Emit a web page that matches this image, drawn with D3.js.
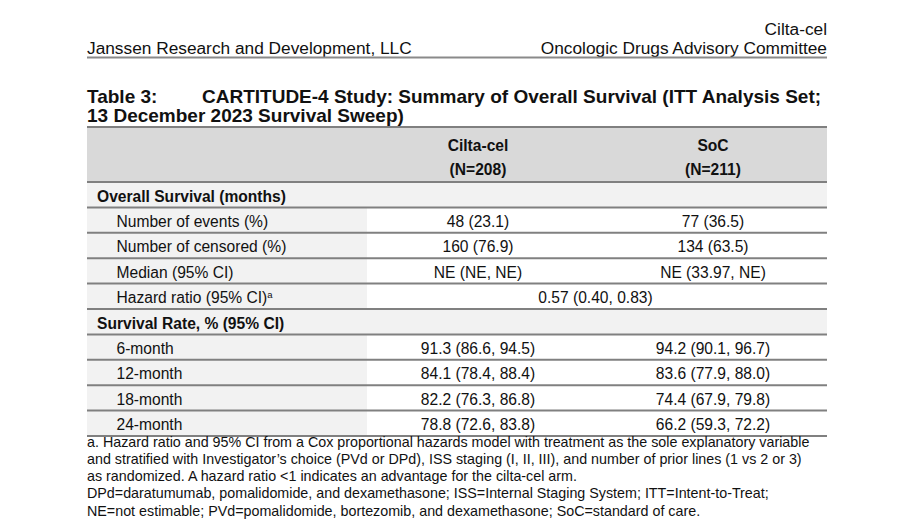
<!DOCTYPE html>
<html><head><meta charset="utf-8">
<script src="https://cdn.jsdelivr.net/npm/d3@7"></script>
<style>
html,body{margin:0;padding:0;background:#fff;}
svg{display:block;}
text{font-family:"Liberation Sans",Arial,sans-serif;fill:#111;}
</style></head>
<body>
<svg id="chart" width="911" height="527"></svg>
<script>
// ---- data ----
const pageHeaderRight = ["Cilta-cel", "Oncologic Drugs Advisory Committee"];
const pageHeaderLeft = "Janssen Research and Development, LLC";
const tableNumber = "Table 3:";
const titleLines = ["CARTITUDE-4 Study: Summary of Overall Survival (ITT Analysis Set;", "13 December 2023 Survival Sweep)"];
const columns = ["Cilta-cel", "SoC"];
const columnN = ["(N=208)", "(N=211)"];
const rowLabels = ["Overall Survival (months)", "Number of events (%)", "Number of censored (%)", "Median (95% CI)", "Hazard ratio (95% CI)", "Survival Rate, % (95% CI)", "6-month", "12-month", "18-month", "24-month"];
const rowKinds = ["section", "row", "row", "row", "span", "section", "row", "row", "row", "row"];
const ciltaValues = ["", "48 (23.1)", "160 (76.9)", "NE (NE, NE)", "0.57 (0.40, 0.83)", "", "91.3 (86.6, 94.5)", "84.1 (78.4, 88.4)", "82.2 (76.3, 86.8)", "78.8 (72.6, 83.8)"];
const socValues = ["", "77 (36.5)", "134 (63.5)", "NE (33.97, NE)", "", "", "94.2 (90.1, 96.7)", "83.6 (77.9, 88.0)", "74.4 (67.9, 79.8)", "66.2 (59.3, 72.2)"];
const footnotes = [
  "a. Hazard ratio and 95% CI from a Cox proportional hazards model with treatment as the sole explanatory variable",
  "and stratified with Investigator\u2019s choice (PVd or DPd), ISS staging (I, II, III), and number of prior lines (1 vs 2 or 3)",
  "as randomized. A hazard ratio <1 indicates an advantage for the cilta-cel arm.",
  "DPd=daratumumab, pomalidomide, and dexamethasone; ISS=Internal Staging System; ITT=Intent-to-Treat;",
  "NE=not estimable; PVd=pomalidomide, bortezomib, and dexamethasone; SoC=standard of care."
];

// ---- layout ----
const svg = d3.select("#chart");
const L = 87, R = 827, labelRight = 367;
const FS = 15.6;
const colCenter = d3.scaleOrdinal().domain(["label", ...columns]).range([0, 478, 713]);
const headerTop = 127, headerBottom = 182, tableBottom = 436;
const y = d3.scaleBand().domain(d3.range(rowLabels.length)).range([headerBottom, tableBottom]);

// page header
svg.append("text").attr("x", R).attr("y", 35).attr("text-anchor", "end").attr("font-size", 17.3).text(pageHeaderRight[0]);
svg.append("text").attr("x", R).attr("y", 54).attr("text-anchor", "end").attr("font-size", 17.3).text(pageHeaderRight[1]);
svg.append("text").attr("x", L).attr("y", 54).attr("font-size", 17.3).text(pageHeaderLeft);
svg.append("line").attr("x1", L).attr("x2", R).attr("y1", 57.5).attr("y2", 57.5).attr("stroke", "#8a8a8a").attr("stroke-width", 2);

// title
svg.append("text").attr("x", L).attr("y", 102.5).attr("font-size", 19).attr("font-weight", "bold").text(tableNumber);
svg.append("text").attr("x", 202).attr("y", 102.5).attr("font-size", 19).attr("font-weight", "bold").text(titleLines[0]);
svg.append("text").attr("x", L).attr("y", 122).attr("font-size", 19).attr("font-weight", "bold").text(titleLines[1]);

// header band
svg.append("rect").attr("x", L).attr("y", headerTop).attr("width", R - L).attr("height", headerBottom - headerTop).attr("fill", "#d9d9d9");
columns.forEach((c, i) => {
  svg.append("text").attr("x", colCenter(c)).attr("y", 150.5).attr("text-anchor", "middle").attr("font-size", FS).attr("font-weight", "bold").text(c);
  svg.append("text").attr("x", colCenter(c)).attr("y", 175).attr("text-anchor", "middle").attr("font-size", FS).attr("font-weight", "bold").text(columnN[i]);
});

// rows
const rows = rowLabels.map((lab, i) => ({i, lab, kind: rowKinds[i], c: ciltaValues[i], s: socValues[i]}));
const g = svg.append("g").selectAll("g").data(rows).join("g").attr("transform", d => `translate(0,${y(d.i)})`);
g.append("rect").attr("x", L).attr("y", 0)
  .attr("width", d => d.kind === "section" ? R - L : labelRight - L)
  .attr("height", y.bandwidth()).attr("fill", "#f2f2f2");
const base = 19.5;
g.append("text").attr("x", d => d.kind === "section" ? 97 : 116.5).attr("y", base)
  .attr("font-size", FS).attr("font-weight", d => d.kind === "section" ? "bold" : "normal")
  .each(function(d) {
    const t = d3.select(this);
    t.append("tspan").text(d.lab);
    if (d.kind === "span") t.append("tspan").attr("font-size", 9.5).attr("dy", -5.5).text("a");
  });
g.filter(d => d.kind === "row").append("text").attr("x", colCenter(columns[0])).attr("y", base).attr("text-anchor", "middle").attr("font-size", FS).text(d => d.c);
g.filter(d => d.kind === "row").append("text").attr("x", colCenter(columns[1])).attr("y", base).attr("text-anchor", "middle").attr("font-size", FS).text(d => d.s);
g.filter(d => d.kind === "span").append("text").attr("x", (colCenter(columns[0]) + colCenter(columns[1])) / 2).attr("y", base).attr("text-anchor", "middle").attr("font-size", FS).text(d => d.c);

// lines
const lineYs = [headerTop, headerBottom, ...rows.map(d => y(d.i) + y.bandwidth())];
svg.append("g").selectAll("line").data(lineYs).join("line")
  .attr("x1", L).attr("x2", R).attr("y1", d => d).attr("y2", d => d)
  .attr("stroke", "#808080").attr("stroke-width", 2);

// footnotes
svg.append("g").selectAll("text").data(footnotes).join("text")
  .attr("x", L).attr("y", (d, i) => 446.5 + i * 17.3).attr("font-size", 14.3).text(d => d);
</script>
</body></html>
